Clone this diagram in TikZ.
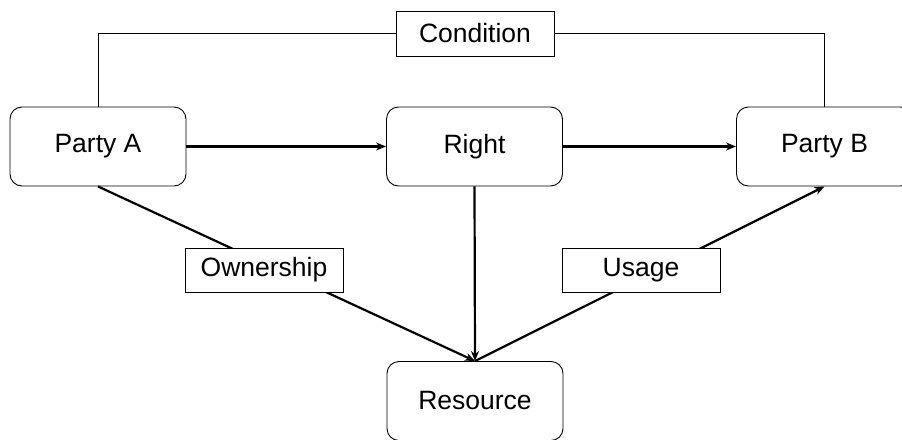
\documentclass[tikz,border=0pt]{standalone}
\usepackage{fontspec}
\setmainfont{Liberation Sans}
\usetikzlibrary{arrows.meta}
\begin{document}
\begin{tikzpicture}[x=1pt,y=-1pt,
  party/.style={draw=black,line width=0.9pt,rounded corners=12pt,fill=white,
    minimum width=176pt,minimum height=79pt,inner sep=0pt,
    font=\fontsize{26.5}{30}\selectfont},
  label/.style={draw=black,line width=0.9pt,fill=white,
    minimum width=158pt,minimum height=44pt,inner sep=0pt,
    font=\fontsize{26.5}{30}\selectfont},
  thinline/.style={draw=black,line width=0.9pt},
  arrowline/.style={draw=black,line width=2.2pt,-{Stealth[length=10pt,width=8pt]}}
]
\clip (0,0) rectangle (902,439);
\fill[white] (0,0) rectangle (902,439);
\node[party] (A) at (98,146.5) {Party A};
\node[party] (R) at (474.5,146.5) {Right};
\node[party] (B) at (824.5,146.5) {Party B};
\node[party] (Res) at (475,401) {Resource};
\node[label,minimum height=45pt] (C) at (475,33.5) {Condition};
% condition lines
\draw[thinline] (A.north) |- (C.west);
\draw[thinline] (C.east) -| (B.north);
% arrows
\draw[arrowline] (A.east) -- (R.west);
\draw[arrowline] (R.east) -- (B.west);
\draw[arrowline] (R.south) -- (Res.north);
\draw[arrowline] (A.south) -- (Res.north);
\draw[arrowline] (Res.north) -- (B.south);
% labels on the lines
\node[label] (O) at (264,270) {Ownership};
\node[label] (U) at (641,270) {Usage};
\end{tikzpicture}
\end{document}
